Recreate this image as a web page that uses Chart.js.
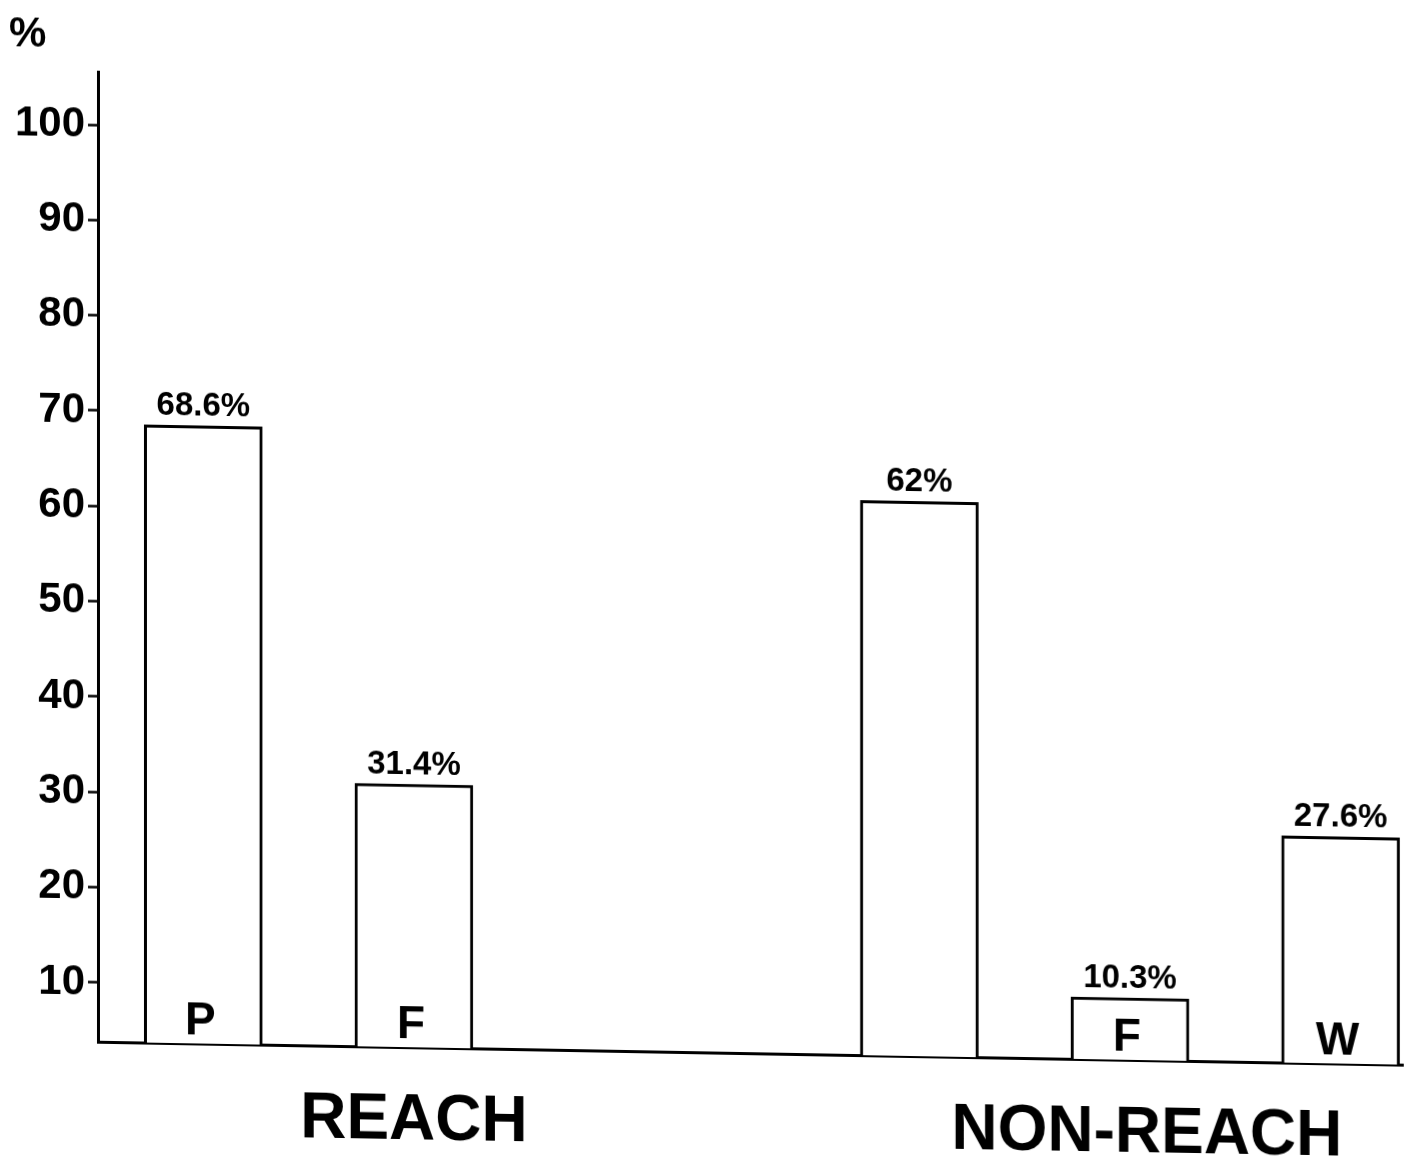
<!DOCTYPE html>
<html>
<head>
<meta charset="utf-8">
<script src="https://cdn.jsdelivr.net/npm/chart.js@4.4.1/dist/chart.umd.min.js"></script>
<style>
  html, body { margin: 0; padding: 0; background: #fff; overflow: hidden; }
  /* the scan is slightly sheared: baseline drops ~23px across the page */
  #chart { display: block; transform: skewY(1.007deg); transform-origin: 0 0; }
</style>
</head>
<body>
<canvas id="chart" width="1404" height="1157"></canvas>
<script>
const barLetters = ['P', 'F', '', 'F', 'W'];
const barValues = [68.6, 31.4, 62, 10.3, 27.6];
const groupNames = ['REACH', 'NON-REACH'];
const yTicks = [10, 20, 30, 40, 50, 60, 70, 80, 90, 100];
const unitLabel = '%';

// layout: the bottom is split in 31 slots, bars sit in some of them
const SLOTS = 31;
const barSlot = [2, 7, 19, 24, 29];
const groupSlot = [7, 24.4];

const FONT = '"Liberation Sans", Arial, Helvetica, sans-serif';

const slotLabels = [];
const slotValues = [];
for (let i = 0; i < SLOTS; i++) {
  slotLabels.push('');
  slotValues.push(null);
}
barSlot.forEach((s, i) => {
  slotLabels[s] = barLetters[i];
  slotValues[s] = barValues[i];
});

const textPlugin = {
  id: 'texts',
  afterDatasetsDraw(chart) {
    const { ctx, chartArea, scales: { x } } = chart;
    const meta = chart.getDatasetMeta(0);
    ctx.save();
    ctx.fillStyle = '#000';
    ctx.textAlign = 'center';
    ctx.textBaseline = 'alphabetic';
    barSlot.forEach((s, i) => {
      const bar = meta.data[s];
      ctx.font = 'bold 33px ' + FONT;
      ctx.fillText(barValues[i] + '%', bar.x, bar.y - 10);
      ctx.font = 'bold 46px ' + FONT;
      ctx.fillText(barLetters[i], bar.x - 3, chartArea.bottom - 9);
    });
    const w = x.width / SLOTS;
    ctx.font = 'bold 64px ' + FONT;
    groupNames.forEach((g, i) => {
      ctx.fillText(g, x.left + (groupSlot[i] + 0.5) * w, chartArea.bottom + 92);
    });
    ctx.textAlign = 'left';
    ctx.font = 'bold 42px ' + FONT;
    ctx.fillText(unitLabel, 9, 46);
    ctx.restore();
  }
};

const ctx = document.getElementById('chart').getContext('2d');
const myChart = new Chart(ctx, {
  type: 'bar',
  data: {
    labels: slotLabels,
    datasets: [{
      data: slotValues,
      backgroundColor: '#fff',
      borderColor: '#000',
      borderWidth: 3,
      barThickness: 118
    }]
  },
  options: {
    responsive: false,
    animation: false,
    layout: { padding: { top: 70, left: 0, right: 0, bottom: 0 } },
    plugins: {
      legend: { display: false },
      tooltip: { enabled: false }
    },
    scales: {
      x: {
        offset: true,
        ticks: { display: false },
        grid: { display: false },
        border: { display: true, color: '#000', width: 3 },
        afterFit: (s) => { s.height = 117; }
      },
      y: {
        min: 3.81,
        max: 105.56,
        afterBuildTicks: (s) => { s.ticks = yTicks.map(v => ({ value: v })); },
        afterFit: (s) => { s.width = 98; },
        ticks: {
          color: '#000',
          padding: 3,
          font: { family: FONT, size: 42, weight: 'bold' }
        },
        grid: {
          drawOnChartArea: false,
          drawTicks: true,
          tickLength: 10,
          tickColor: '#000',
          tickWidth: 2.5
        },
        border: { display: true, color: '#000', width: 3 }
      }
    }
  },
  plugins: [textPlugin]
});
</script>
</body>
</html>
